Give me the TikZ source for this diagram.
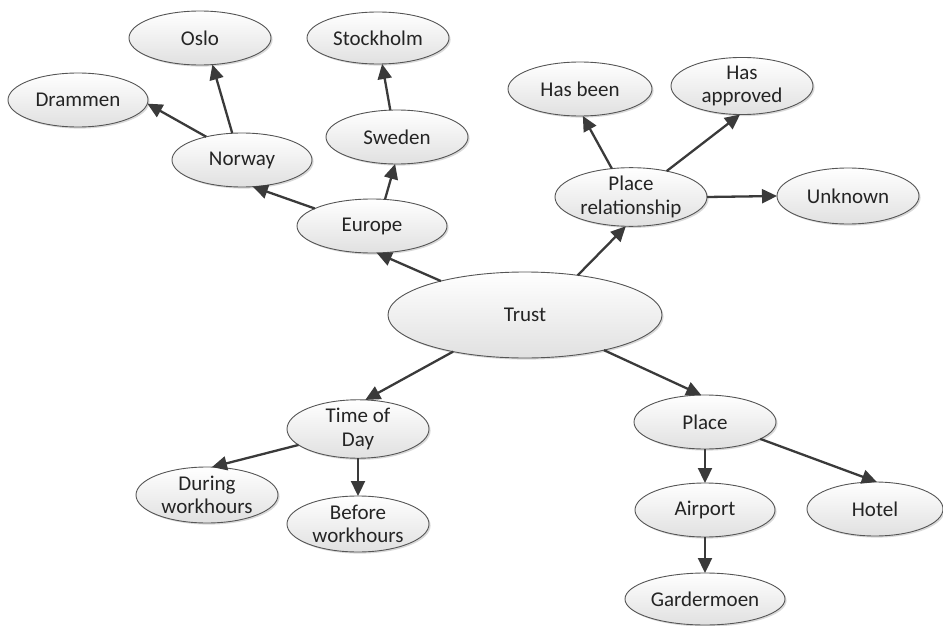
\documentclass[tikz,border=0pt]{standalone}
\usepackage{fontspec}
\setmainfont{Carlito}
\usetikzlibrary{shapes.geometric,arrows.meta,shadows}
\definecolor{edgegray}{HTML}{3A3A3A}
\definecolor{rim}{HTML}{555555}
\definecolor{ink}{HTML}{242424}
\tikzset{
  bubble/.style={ellipse, draw=rim, line width=0.9pt,
    top color=white, bottom color=black!12,
    inner sep=0pt, outer sep=0pt,
    minimum width=142pt, minimum height=54pt,
    align=center, text=ink,
    font=\fontsize{21}{23.5}\selectfont,
    drop shadow={shadow xshift=1.6pt, shadow yshift=-1.6pt, opacity=0.25, fill=black!60}},
  link/.style={draw=edgegray, line width=2.3pt, -{Triangle[length=15pt,width=14pt]}},
}
\begin{document}
\begin{tikzpicture}[x=1pt,y=-1pt]
\useasboundingbox (0,0) rectangle (943,626);

% concept nodes
\node[bubble, minimum width=274pt, minimum height=86pt] (trust) at (525,315) {Trust};
\node[bubble, minimum width=150pt] (europe) at (372,226) {Europe};
\node[bubble, minimum width=140pt] (norway) at (242,160) {Norway};
\node[bubble, minimum width=140pt] (drammen) at (78,100) {Drammen};
\node[bubble] (oslo) at (200,38) {Oslo};
\node[bubble, minimum height=52pt] (stockholm) at (378,38) {Stockholm};
\node[bubble] (sweden) at (397,137) {Sweden};
\node[bubble, minimum width=144pt] (hasbeen) at (580,89) {Has been};
\node[bubble, minimum height=56pt] (hasapproved) at (742,86) {Has\\approved};
\node[bubble, minimum width=152pt, minimum height=56pt] (placerel) at (631,197) {Place\\relationship};
\node[bubble, minimum height=56pt] (unknown) at (848,196) {Unknown};
\node[bubble, minimum height=58pt] (timeofday) at (358,429) {Time of\\Day};
\node[bubble, minimum height=56pt] (during) at (207,495) {During\\workhours};
\node[bubble, minimum height=56pt] (before) at (358,524) {Before\\workhours};
\node[bubble] (place) at (705,422) {Place};
\node[bubble, minimum width=140pt] (airport) at (705,510) {Airport};
\node[bubble, minimum width=136pt] (hotel) at (875,509) {Hotel};
\node[bubble, minimum width=160pt, minimum height=52pt] (gardermoen) at (705,599) {Gardermoen};

% connectors
\draw[link] (trust.158) -- (europe.280);
\draw[link] (europe.163) -- (norway.292);
\draw[link] (norway.147) -- (drammen.357);
\draw[link] (norway.110) -- (oslo.295);
\draw[link] (europe.64) -- (sweden.266);
\draw[link] (sweden.104) -- (stockholm.279);
\draw[link] (trust.37) -- (placerel.260);
\draw[link] (placerel.124) -- (hasbeen.276);
\draw[link] (placerel.36) -- (hasapproved.266);
\draw[link] (placerel.east) -- (unknown.west);
\draw[link] (trust.207) -- (timeofday.76);
\draw[link] (trust.336) -- (place.98);
\draw[link] (timeofday.195) -- (during.80);
\draw[link] (timeofday.south) -- (before.north);
\draw[link] (place.south) -- (airport.north);
\draw[link] (place.343) -- (hotel.86);
\draw[link] (airport.south) -- (gardermoen.north);
\end{tikzpicture}
\end{document}
